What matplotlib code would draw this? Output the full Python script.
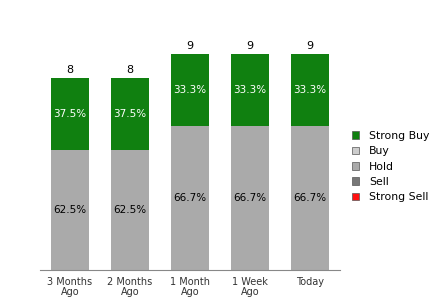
import numpy as np
import matplotlib.pyplot as plt
from matplotlib.patches import Patch

periods = ["3 Months\nAgo", "2 Months\nAgo", "1 Month\nAgo", "1 Week\nAgo", "Today"]
strong_buy = [3, 3, 3, 3, 3]
buy = [0, 0, 0, 0, 0]
hold = [5, 5, 6, 6, 6]
sell = [0, 0, 0, 0, 0]
strong_sell = [0, 0, 0, 0, 0]

names = ["Strong Buy", "Buy", "Hold", "Sell", "Strong Sell"]
colors = ["#108010", "#cccccc", "#aaaaaa", "#777777", "#ff1010"]

fig = plt.figure(figsize=(4.4, 3), dpi=100)
ax = fig.add_axes([40/440, 30/300, 300/440, 240/300])

x = np.arange(len(periods))
w = 0.62
# stack from bottom: strong sell, sell, hold, buy, strong buy
stack = [(strong_sell, colors[4]), (sell, colors[3]), (hold, colors[2]),
         (buy, colors[1]), (strong_buy, colors[0])]
bottom = np.zeros(len(periods))
totals = np.array(strong_buy) + np.array(buy) + np.array(hold) + np.array(sell) + np.array(strong_sell)
for vals, c in stack:
    vals = np.array(vals)
    ax.bar(x, vals, w, bottom=bottom, color=c, linewidth=0)
    for i, v in enumerate(vals):
        if v > 0:
            tc = "white" if c == colors[0] else "black"
            ax.text(x[i], bottom[i] + v / 2, "%.1f%%" % (100.0 * v / totals[i]),
                    ha="center", va="center", fontsize=7.5, color=tc)
    bottom += vals

for i, t in enumerate(totals):
    ax.text(x[i], t + 0.12, str(t), ha="center", va="bottom", fontsize=8, color="black")

ax.set_xlim(-0.5, 4.5)
ax.set_ylim(0, 10)
ax.set_xticks(x)
ax.set_xticklabels(periods, fontsize=7, color="#333333", linespacing=0.95)
ax.tick_params(axis="x", length=0, pad=5)
ax.set_yticks([])
for s in ["top", "right", "left"]:
    ax.spines[s].set_visible(False)
ax.spines["bottom"].set_color("#888888")

handles = [Patch(facecolor=c, edgecolor="#555555", linewidth=0.5) for c in colors]
fig.legend(handles, names, loc="upper left", bbox_to_anchor=(342/440, 1 - 121/300),
           frameon=False, fontsize=7.8, handlelength=0.7, handleheight=0.7,
           handletextpad=0.9, labelspacing=0.5)

fig.savefig("out.png", dpi=100)
